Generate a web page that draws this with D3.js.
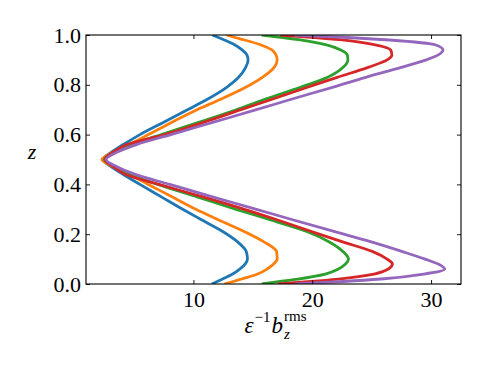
<!DOCTYPE html>
<html>
<head>
<meta charset="utf-8">
<script src="https://cdn.jsdelivr.net/npm/d3@7"></script>
<style>
  body { margin: 0; background: #fff; }
</style>
</head>
<body>
<div id="chart"></div>
<script>
var fontFam = '"Liberation Serif", "DejaVu Serif", serif';

// z positions shared by every profile
var zVals = [0, 0.01, 0.02, 0.04, 0.06, 0.08, 0.1, 0.13, 0.17, 0.21, 0.26, 0.3, 0.35, 0.4, 0.44, 0.47, 0.5,
             0.53, 0.56, 0.6, 0.65, 0.7, 0.74, 0.79, 0.83, 0.87, 0.9, 0.92, 0.94, 0.96, 0.98, 0.99, 1.0];

// profiles
var blueVals   = [11.55, 12.0, 12.45, 13.3, 13.9, 14.35, 14.55, 14.45, 13.7, 12.5, 10.6, 9.1, 7.3, 5.5, 4.1, 3.1, 2.4,
                  3.1, 4.1, 5.5, 7.5, 9.5, 11.1, 12.8, 13.8, 14.4, 14.6, 14.5, 14.1, 13.5, 12.6, 12.1, 11.6];
var orangeVals = [12.6, 13.35, 14.05, 15.4, 16.2, 16.75, 17.05, 17.0, 15.9, 14.3, 12.0, 10.2, 8.2, 6.2, 4.6, 3.3, 2.3,
                  3.3, 4.6, 6.2, 8.2, 10.3, 12.2, 14.4, 15.8, 16.8, 17.05, 16.95, 16.6, 15.7, 14.3, 13.5, 12.8];
var greenVals  = [15.74, 17.3, 18.8, 21.1, 22.2, 22.8, 23.05, 22.6, 21.4, 19.6, 16.3, 13.6, 10.3, 7.0, 4.6, 3.4, 2.5,
                  3.4, 4.7, 7.3, 10.5, 13.6, 15.9, 19.0, 21.3, 22.6, 23.0, 22.95, 22.4, 21.2, 19.0, 17.5, 15.74];
var redVals    = [17.1, 19.9, 22.2, 25.2, 26.4, 26.75, 26.3, 25.1, 22.5, 20.0, 16.9, 14.3, 10.8, 7.1, 4.3, 3.3, 2.55,
                  3.3, 4.4, 7.6, 10.9, 14.0, 16.5, 19.6, 22.1, 24.7, 26.3, 26.7, 26.6, 25.3, 22.5, 20.2, 17.3];
var purpleVals = [18.6, 22.6, 25.8, 29.4, 31.15, 30.6, 29.5, 27.6, 24.9, 21.9, 18.2, 15.3, 11.6, 8.0, 5.1, 3.6, 2.65,
                  3.6, 5.2, 8.1, 11.7, 15.3, 18.1, 21.7, 24.5, 27.5, 29.6, 30.6, 31.0, 30.4, 26.5, 23.0, 18.5];

var seriesVals = [blueVals, orangeVals, greenVals, redVals, purpleVals];
var seriesColors = ["#1f77b4", "#ff7f0e", "#2ca02c", "#d62728", "#9467bd"];

var xTicks = [10, 20, 30];
var yTicks = [0, 0.2, 0.4, 0.6, 0.8, 1.0];

var svgWidth = 488, svgHeight = 366;
var margin = {top: 35, right: 27, bottom: 82, left: 86},
    width = svgWidth - margin.left - margin.right,
    height = svgHeight - margin.top - margin.bottom;

var x = d3.scaleLinear().domain([0.96, 32.52]).range([0, width]);
var y = d3.scaleLinear().domain([0, 1]).range([height, 0]);

var svg = d3.select("#chart").append("svg")
    .attr("width", svgWidth)
    .attr("height", svgHeight)
  .append("g")
    .attr("transform", "translate(" + margin.left + "," + margin.top + ")");

svg.append("clipPath").attr("id", "clip")
  .append("rect").attr("width", width).attr("height", height);

// curves (z is monotonic, so the profile is drawn as v(z))
var line = d3.line()
    .x(function(d) { return x(d.v); })
    .y(function(d) { return y(d.z); })
    .curve(d3.curveMonotoneY);

seriesVals.forEach(function(vals, i) {
  var pts = vals.map(function(v, j) { return {v: v, z: zVals[j]}; });
  svg.append("path")
    .datum(pts)
    .attr("clip-path", "url(#clip)")
    .attr("fill", "none")
    .attr("stroke", seriesColors[i])
    .attr("stroke-width", 2.8)
    .attr("stroke-linejoin", "round")
    .attr("d", line);
});

// axes, ticks pointing in
function styleAxis(g) {
  g.attr("font-family", null).attr("font-size", null);
  g.select(".domain").remove();
  g.selectAll(".tick line").attr("stroke", "#000").attr("stroke-width", 0.9);
  g.selectAll(".tick text").attr("fill", "#000")
    .style("font-family", fontFam).style("font-size", "22px");
}

svg.append("g")
  .attr("transform", "translate(0," + height + ")")
  .call(d3.axisBottom(x).tickValues(xTicks).tickSize(-4).tickPadding(7).tickFormat(d3.format("d")))
  .call(styleAxis);

svg.append("g")
  .call(d3.axisTop(x).tickValues(xTicks).tickSize(-4).tickFormat(""))
  .call(styleAxis);

svg.append("g")
  .call(d3.axisLeft(y).tickValues(yTicks).tickSize(-4).tickPadding(5).tickFormat(d3.format(".1f")))
  .call(styleAxis);

svg.append("g")
  .attr("transform", "translate(" + width + ",0)")
  .call(d3.axisRight(y).tickValues(yTicks).tickSize(-4).tickFormat(""))
  .call(styleAxis);

svg.append("rect")
  .attr("width", width).attr("height", height)
  .attr("fill", "none").attr("stroke", "#000").attr("stroke-width", 1.1);

// y label
svg.append("text")
  .attr("x", 32 - margin.left).attr("y", 152 - margin.top)
  .attr("text-anchor", "middle").attr("dy", "0.3em")
  .style("font-family", fontFam)
  .style("font-size", "22px").style("font-style", "italic")
  .text("z");

// x label: epsilon^-1 b_z^rms
var lab = svg.append("g");
var cx = 0;
function piece(txt, size, dy, italic) {
  var t = lab.append("text").attr("x", cx).attr("y", dy)
    .style("font-family", fontFam)
    .style("font-size", size + "px").style("font-style", italic ? "italic" : "normal")
    .text(txt);
  return t.node().getComputedTextLength();
}
cx += piece("\u03b5", 23, 0, true) + 1;
cx += piece("\u22121", 15, -11, false) + 1;
cx += piece("b", 23, 0, true) + 1;
var wRms = piece("rms", 15, -12, false);
var wZ = piece("z", 15, 6, true);
cx += Math.max(wRms, wZ);
var shift = (width / 2) - cx / 2 + 2;
lab.attr("transform", "translate(" + shift + "," + (333 - margin.top) + ")");
</script>
</body>
</html>
